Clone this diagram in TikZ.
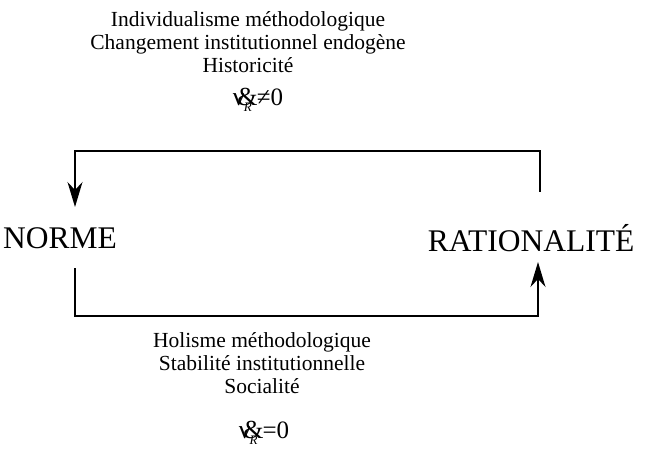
\documentclass[tikz,border=0pt]{standalone}
\usepackage{fontspec}
\setmainfont{Liberation Serif}
\usetikzlibrary{arrows.meta, positioning}

\newcommand{\nudot}{{\fontsize{26}{26}\selectfont ν\kern-0.28em\&}\kern-0.55em\raisebox{-0.55ex}{\fontsize{13}{13}\selectfont\textit{R}}\kern0.2em}

\begin{document}
\begin{tikzpicture}[x=1pt, y=-1pt,
  txt/.style={align=center, font=\fontsize{21.5}{23}\selectfont, inner sep=0pt},
  eq/.style={font=\fontsize{25}{25}\selectfont, inner sep=0pt},
  pole/.style={font=\fontsize{31.5}{33}\selectfont, inner sep=0pt},
  link/.style={draw, line width=1.3pt, -{Stealth[length=25pt, width=15pt, inset=8pt]}}]

\useasboundingbox (0,0) rectangle (645,457);

% texts above and below the loop
\node [txt] (up)     at (248,42)  {Individualisme méthodologique\\Changement institutionnel endogène\\Historicité};
\node [eq]  (upeq)   at (258,100) {\nudot≠0};
\node [txt] (down)   at (262,363) {Holisme méthodologique\\Stabilité institutionnelle\\Socialité};
\node [eq]  (downeq) at (264,433) {\nudot=0};

% the two poles
\node [pole] (norme) at (60,238)  {NORME};
\node [pole] (ratio) at (531,238) {RATIONALITÉ};

\coordinate (tl) at (75,151);
\coordinate (tr) at (540,151);
\coordinate (rs) at (540,192);
\coordinate (lt) at (75,207);
\coordinate (ls) at (75,268);
\coordinate (bl) at (75,316);
\coordinate (br) at (538,316);
\coordinate (rt) at (538,262);

\path [link] (rs) -- (tr) -- (tl) -- (lt);
\path [link] (ls) -- (bl) -- (br) -- (rt);

\end{tikzpicture}
\end{document}
